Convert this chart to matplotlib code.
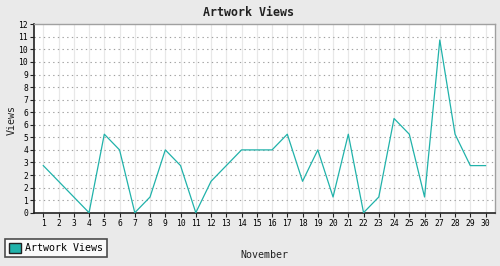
import matplotlib
matplotlib.use("Agg")
import matplotlib.pyplot as plt
from matplotlib.patches import Patch
import numpy as np

days = list(range(1, 31))
views = [3, 2, 1, 0, 5, 4, 0, 1, 4, 3, 0, 2, 3, 4, 4, 4, 5, 2, 4, 1, 5, 0, 1, 6, 5, 1, 11, 5, 3, 3]
ytick_vals = [0, 0.8, 1.6, 2.4, 3.2, 4.0, 4.8, 5.6, 6.4, 7.2, 8.0, 8.8, 9.6, 10.4, 11.2, 12]
ytick_labels = ["0", "1", "2", "2", "3", "4", "5", "6", "6", "7", "8", "9", "10", "10", "11", "12"]
title = "Artwork Views"
series_name = "Artwork Views"
xlabel = "November"
ylabel = "Views"

W, H = 500, 266
fig = plt.figure(figsize=(W / 100, H / 100), dpi=100)
fig.patch.set_facecolor("#EAEAEA")
mono = "DejaVu Sans Mono"

left, right, top, bottom = 34.3, 495.0, 24.3, 212.7
ax = fig.add_axes([left / W, 1 - bottom / H, (right - left) / W, (bottom - top) / H])
ax.set_facecolor("white")
color = "#20B2AA"

ax.plot(days, views, color=color, lw=0.9, zorder=3)
ax.set_xlim(0.41, 30.62)
ax.set_ylim(0, 12)

ax.set_xticks(days)
ax.set_xticklabels([str(d) for d in days], fontsize=5.8, family=mono)
ax.set_yticks(ytick_vals)
ax.set_yticklabels(ytick_labels, fontsize=5.8, family=mono)
ax.tick_params(axis="both", direction="out", length=3, width=0.8, color="#222222", pad=1.5)

for v in days:
    ax.axvline(v, color="#E8E8E8", lw=0.9, zorder=1)
for v in ytick_vals[1:-1]:
    ax.axhline(v, color="#A0A0A0", lw=0.8, ls=(0, (1.2, 3.0)), zorder=1)

for s in ["left", "bottom"]:
    ax.spines[s].set_color("#222222")
    ax.spines[s].set_linewidth(1.2)
for s in ["top", "right"]:
    ax.spines[s].set_color("#A0A0A0")
    ax.spines[s].set_linewidth(1.0)

fig.text(248.5 / W, 1 - 12 / H, title, ha="center", va="center", fontsize=8.4,
         fontweight="bold", family=mono, color="#222222")
fig.text(12 / W, 1 - 120 / H, ylabel, ha="center", va="center", rotation=90,
         fontsize=7.2, family=mono, color="#222222")
fig.text(264 / W, 1 - 255 / H, xlabel, ha="center", va="center",
         fontsize=7.2, family=mono, color="#222222")

handle = Patch(facecolor=color, edgecolor="#222222", linewidth=1.0)
leg = fig.legend([handle], [series_name], loc="lower left",
                 bbox_to_anchor=(5 / W, 1 - 257 / H), frameon=True, fancybox=False,
                 prop={"family": mono, "size": 7.2}, borderpad=0.4, handlelength=1.15,
                 handleheight=1.15, handletextpad=0.45, borderaxespad=0)
leg.get_frame().set_edgecolor("#222222")
leg.get_frame().set_linewidth(1.2)
leg.get_frame().set_facecolor("white")

fig.savefig("out.png", dpi=100, facecolor=fig.get_facecolor())
